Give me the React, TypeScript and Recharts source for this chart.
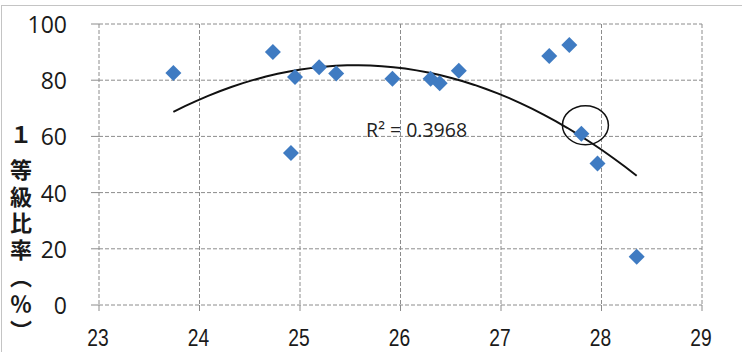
import {
  ScatterChart,
  Scatter,
  XAxis,
  YAxis,
  CartesianGrid,
  ReferenceDot,
} from "recharts";

// 平均気温 (x) と 1等級比率 (y)
const tempValues = [
  23.74, 24.73, 24.95, 24.91, 25.19, 25.36, 25.92, 26.3, 26.39, 26.58, 27.48,
  27.68, 27.8, 27.96, 28.35,
];
const ratioValues = [
  82.6, 90.0, 81.1, 54.1, 84.6, 82.4, 80.5, 80.5, 78.9, 83.4, 88.6, 92.5, 60.9,
  50.4, 17.2,
];
const xTicks = [23, 24, 25, 26, 27, 28, 29];
const yTicks = [0, 20, 40, 60, 80, 100];
const r2Label = "R² = 0.3968";
const yTitleHead = "１";
const yTitleRest = "等級比率（％）";

const points = tempValues.map((x, i) => ({ x, y: ratioValues[i] }));

// 2nd-order least squares trendline, same as the spreadsheet's polynomial fit
function fitQuadratic(xs: number[], ys: number[]) {
  const s = [0, 0, 0, 0, 0];
  const t = [0, 0, 0];
  xs.forEach((x, i) => {
    for (let k = 0; k <= 4; k++) s[k] += Math.pow(x, k);
    for (let k = 0; k <= 2; k++) t[k] += Math.pow(x, k) * ys[i];
  });
  const m = [
    [s[0], s[1], s[2], t[0]],
    [s[1], s[2], s[3], t[1]],
    [s[2], s[3], s[4], t[2]],
  ];
  for (let c = 0; c < 3; c++) {
    for (let r = c + 1; r < 3; r++) {
      const f = m[r][c] / m[c][c];
      for (let k = c; k < 4; k++) m[r][k] -= f * m[c][k];
    }
  }
  const coef = [0, 0, 0];
  for (let r = 2; r >= 0; r--) {
    let v = m[r][3];
    for (let k = r + 1; k < 3; k++) v -= m[r][k] * coef[k];
    coef[r] = v / m[r][r];
  }
  return coef;
}

const coef = fitQuadratic(tempValues, ratioValues);
const minX = Math.min(...tempValues);
const maxX = Math.max(...tempValues);
const trend = Array.from({ length: 41 }, (_, i) => {
  const x = minX + ((maxX - minX) * i) / 40;
  return { x, y: coef[0] + coef[1] * x + coef[2] * x * x };
});

const GRID = "#8c8c8c";

function Diamond({ cx, cy }: { cx?: number; cy?: number }) {
  if (cx == null || cy == null) return null;
  const r = 8;
  return (
    <polygon
      points={`${cx},${cy - r} ${cx + r},${cy} ${cx},${cy + r} ${cx - r},${cy}`}
      fill="#3f7bc2"
    />
  );
}

// narrow digits under the x axis, like the scanned original
function XTick({ x, payload }: { x?: number; payload?: { value: number } }) {
  return (
    <g transform={`translate(${(x ?? 0) - 1},338)`}>
      <text
        transform="scale(0.8,1)"
        textAnchor="middle"
        dominantBaseline="central"
        fontSize={24}
        fontFamily='"Liberation Sans", Arial, sans-serif'
        fill="#1a1a1a"
      >
        {payload?.value}
      </text>
    </g>
  );
}

function YTick({ y, payload }: { y?: number; payload?: { value: number } }) {
  return (
    <text
      x={67}
      y={y}
      textAnchor="end"
      dominantBaseline="central"
      fontSize={23}
      fontFamily='"Open Sans", "Noto Sans", sans-serif'
      fill="#1a1a1a"
    >
      {payload?.value}
    </text>
  );
}

export default function App() {
  return (
    <div
      style={{
        position: "absolute",
        left: 0,
        top: 0,
        width: 742,
        height: 352,
        background: "#fff",
        overflow: "hidden",
      }}
    >
      <div
        style={{
          position: "absolute",
          left: 1,
          top: 5,
          right: 0,
          bottom: 0,
          borderTop: "1px solid #c4c4c4",
          borderLeft: "1px solid #c4c4c4",
        }}
      />
      <ScatterChart
        width={742}
        height={352}
        margin={{ top: 24, right: 40, left: 0, bottom: 0 }}
      >
        <CartesianGrid stroke={GRID} strokeDasharray="4 2" />
        <XAxis
          type="number"
          dataKey="x"
          domain={[23, 29]}
          ticks={xTicks}
          height={47}
          axisLine={false}
          tickLine={{ stroke: GRID }}
          tickSize={6}
          tick={<XTick />}
        />
        <YAxis
          type="number"
          dataKey="y"
          domain={[0, 100]}
          ticks={yTicks}
          width={99}
          axisLine={false}
          tickLine={{ stroke: GRID }}
          tickSize={8}
          tick={<YTick />}
        />
        <Scatter
          data={trend}
          line={{ stroke: "#111", strokeWidth: 2 }}
          lineType="joint"
          shape={() => <g />}
          isAnimationActive={false}
        />
        <Scatter data={points} shape={<Diamond />} isAnimationActive={false} />
        <ReferenceDot
          x={27.84}
          y={64}
          r={1}
          shape={(p: { cx?: number; cy?: number }) => (
            <ellipse
              cx={p.cx}
              cy={p.cy}
              rx={23}
              ry={19.5}
              fill="none"
              stroke="#111"
              strokeWidth={1.5}
            />
          )}
        />
        <ReferenceDot
          x={26.16}
          y={62.6}
          r={1}
          shape={(p: { cx?: number; cy?: number }) => (
            <text
              x={p.cx}
              y={p.cy}
              textAnchor="middle"
              dominantBaseline="central"
              fontSize={19.5}
              fontFamily='"Open Sans", "Noto Sans", sans-serif'
              fill="#222"
            >
              {r2Label}
            </text>
          )}
        />
      </ScatterChart>
      <div
        style={{
          position: "absolute",
          left: 10,
          top: 123.5,
          writingMode: "vertical-rl",
          fontFamily: '"Noto Sans CJK JP", sans-serif',
          fontWeight: 700,
          fontSize: 22,
          letterSpacing: 4.8,
          lineHeight: 1,
          color: "#1a1a1a",
        }}
      >
        <span style={{ letterSpacing: 12.5 }}>{yTitleHead}</span>
        {yTitleRest}
      </div>
    </div>
  );
}
